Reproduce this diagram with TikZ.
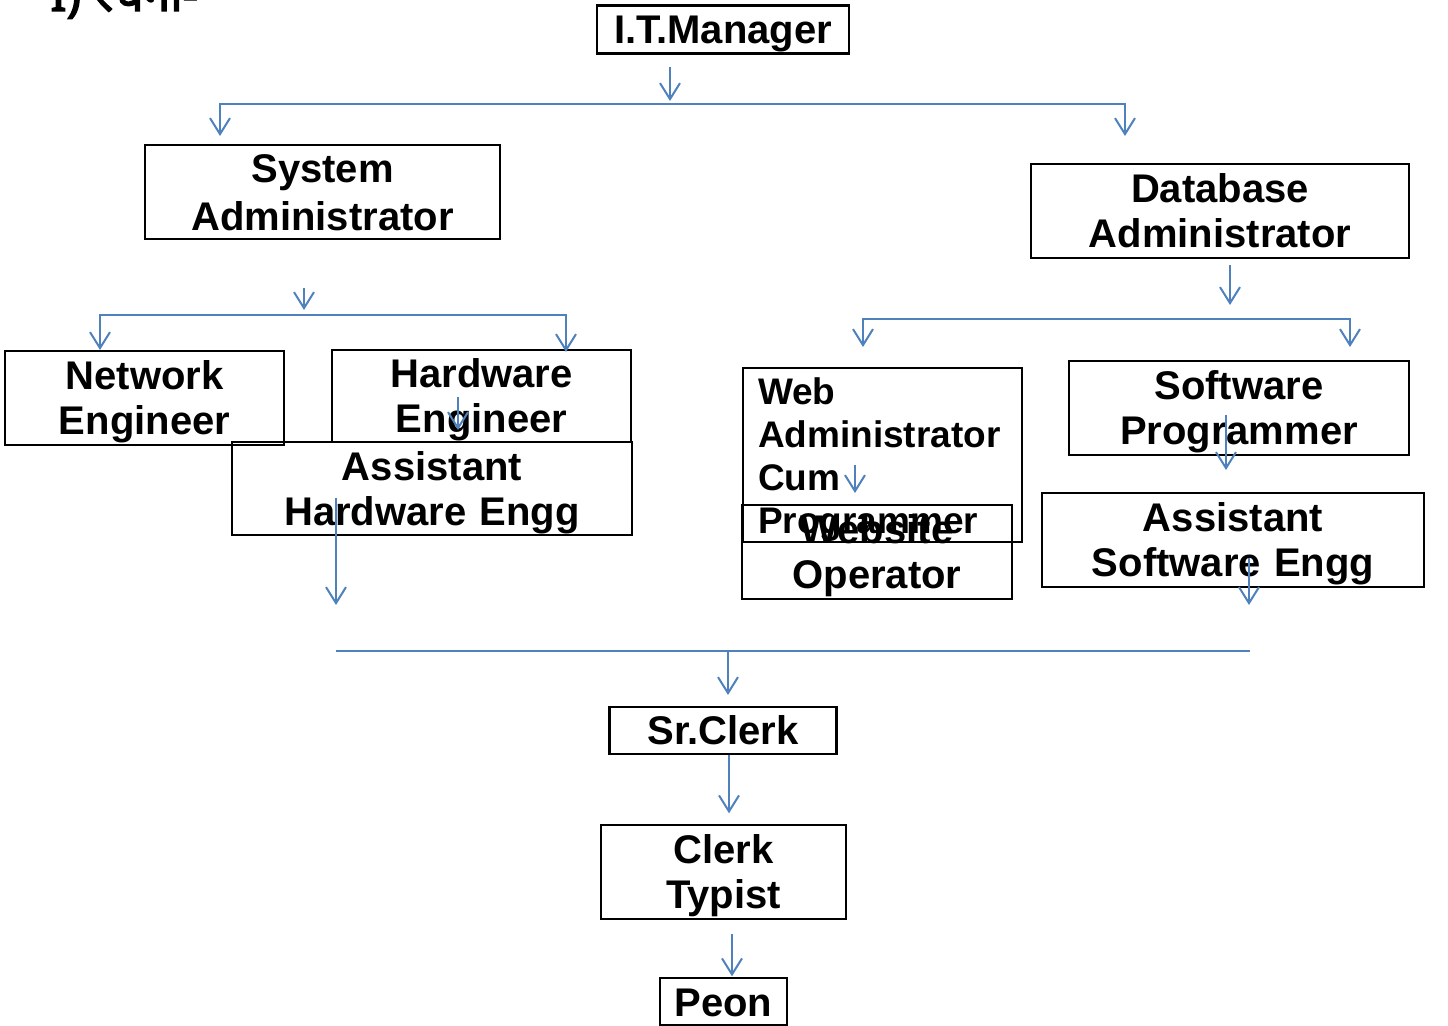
\documentclass[tikz,border=0pt]{standalone}
\usepackage{fontspec}
\setmainfont{Liberation Sans}
\newfontfamily\devfont[Script=Devanagari, AutoFakeBold=3]{Noto Sans}
\usetikzlibrary{arrows.meta}
\definecolor{linkblue}{RGB}{79,129,189}
\newcommand\bigstrut{\rule[-4pt]{0pt}{22.5pt}}
\newcommand\smallstrut{\rule[-4pt]{0pt}{21.5pt}}

\begin{document}
\begin{tikzpicture}[x=0.5pt, y=-0.5pt,
    box/.style={draw, line width=1.3pt, inner sep=0pt, align=center,
        font=\fontsize{20}{22.5}\selectfont\bfseries,
        execute at begin node=\bigstrut, execute at end node=\bigstrut},
    link/.style={draw=linkblue, line width=1pt},
    arr/.style={link, -{Straight Barb[length=8pt, width=10pt]}},
    dblarr/.style={link, {Straight Barb[length=8pt, width=10pt]}-{Straight Barb[length=8pt, width=10pt]}}]
    \useasboundingbox (0,0) rectangle (1448,1026);

    \node[anchor=base west, inner sep=0pt, font=\devfont\fontsize{24}{26}\selectfont\bfseries] (title) at (50,11) {I) रचना-};

    % boxes
    \node[box, text width=126pt, minimum height=24pt] (itm) at (723,29.5) {I.T.Manager};
    \node[box, text width=177.5pt, minimum height=47pt] (sysadm) at (322.5,192) {System\\Administrator};
    \node[box, text width=189pt, minimum height=47pt] (dbadm) at (1220,211) {Database\\Administrator};

    \node[box, text width=139.5pt, minimum height=47pt] (neteng) at (144.5,398) {Network\\Engineer};
    \node[box, text width=149.5pt, minimum height=46pt] (hweng) at (481.5,396) {Hardware\\Engineer};
    \node[box, text width=200pt, minimum height=46.5pt] (asshw) at (432,488.5) {Assistant\\Hardware Engg};

    \node[box, minimum height=87pt, text width=124.5pt, inner xsep=7.5pt, align=left,
        font=\fontsize{18.5}{21.5}\selectfont\bfseries,
        execute at begin node=\smallstrut, execute at end node=\smallstrut] (webadm) at (882.5,455) {Web\\Administrator\\Cum\\Programmer};
    \node[box, text width=135pt, minimum height=47pt] (websop) at (877,552) {Website\\Operator};
    \node[box, text width=170pt, minimum height=47pt] (swprog) at (1239,408) {Software\\Programmer};
    \node[box, text width=191pt, minimum height=47pt] (asssw) at (1233,540) {Assistant\\Software Engg};

    \node[box, text width=113.5pt, minimum height=23.5pt] (srclerk) at (723,730.5) {Sr.Clerk};
    \node[box, text width=122.5pt, minimum height=47pt] (clerkt) at (723.5,872) {Clerk\\Typist};
    \node[box, text width=63.5pt, minimum height=23.5pt] (peon) at (723.5,1001.5) {Peon};

    % top level
    \coordinate (itmout) at (670,67);
    \coordinate (topbus) at (670,104);
    \coordinate (sysin) at (220,136);
    \coordinate (dbin) at (1125,136);
    \draw[arr] (itmout) -- ++(0,34);
    \draw[dblarr] (sysin) |- (topbus) -| (dbin);

    % system side
    \coordinate (sysout) at (304,288);
    \coordinate (sysbus) at (304,315);
    \coordinate (netin) at (100,350);
    \coordinate (hwin) at (566,352);
    \draw[arr] (sysout) -- ++(0,22);
    \draw[dblarr] (netin) |- (sysbus) -| (hwin);

    % database side
    \coordinate (dbout) at (1230,265);
    \coordinate (dbbus) at (1230,319);
    \coordinate (webin) at (863,347);
    \coordinate (swin) at (1350,347);
    \draw[arr] (dbout) -- ++(0,40);
    \draw[dblarr] (webin) |- (dbbus) -| (swin);

    % loose arrows
    \coordinate (hwout) at (458,397);
    \coordinate (webout) at (855,465);
    \coordinate (swout) at (1226,415);
    \coordinate (asshwout) at (336,498);
    \coordinate (assswout) at (1249,558);
    \draw[arr] (hwout) -- ++(0,33);
    \draw[arr] (webout) -- ++(0,28);
    \draw[arr] (swout) -- ++(0,55);
    \draw[arr] (asshwout) -- ++(0,107);
    \draw[arr] (assswout) -- ++(0,47);

    % lower part
    \coordinate (lowL) at (336,651);
    \coordinate (lowR) at (1250,651);
    \coordinate (lowbus) at (728,651);
    \draw[link] (lowL) -- (lowR);
    \draw[arr] (lowbus) -- ++(0,44);
    \draw[arr] ([xshift=3pt]srclerk.south) -- ++(0,58);
    \draw[arr] ([xshift=4.25pt,yshift=-7pt]clerkt.south) -- ++(0,42);
\end{tikzpicture}
\end{document}
